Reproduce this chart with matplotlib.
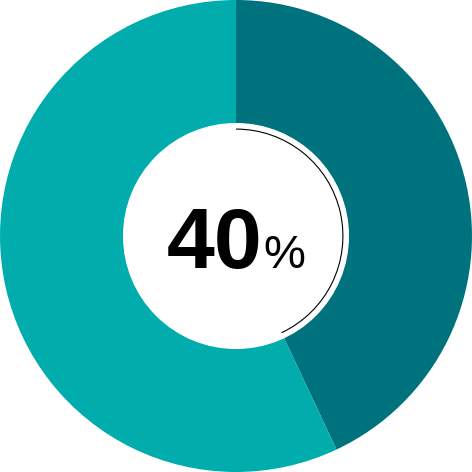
import matplotlib
matplotlib.use('Agg')
import matplotlib.pyplot as plt
from matplotlib.patches import Circle, Arc

# 数据
segments = ['filled', 'rest']
values = [43, 57]
colors = ['#00727E', '#00ADAC']
big_label = '40'
small_label = '%'

fig = plt.figure(figsize=(4.72, 4.72), dpi=100)
ax = fig.add_axes([0, 0, 1, 1])

# 环形图
ax.pie(values, colors=colors, startangle=90, counterclock=False, radius=1.0,
       wedgeprops=dict(linewidth=0))

# 中间白色圆
ax.add_patch(Circle((0, 0), 0.479, facecolor='white', edgecolor='none', zorder=3))

# 细黑弧线，对应第一段
frac = values[0] / sum(values)
ax.add_patch(Arc((0, 0), 2 * 0.453, 2 * 0.453, theta1=90 - 360 * frac, theta2=90,
                 color='black', linewidth=0.8, zorder=4))

# 百分比文字
ax.text(0.112, -0.136, big_label, ha='right', va='baseline', fontsize=62,
        fontweight='bold', family='Liberation Sans', zorder=5)
ax.text(0.117, -0.136, small_label, ha='left', va='baseline', fontsize=34,
        family='Liberation Sans', zorder=5)

ax.set_xlim(-1, 1)
ax.set_ylim(-1, 1)
ax.set_aspect('equal')
ax.axis('off')

fig.savefig('out.png', dpi=100, facecolor='white')
